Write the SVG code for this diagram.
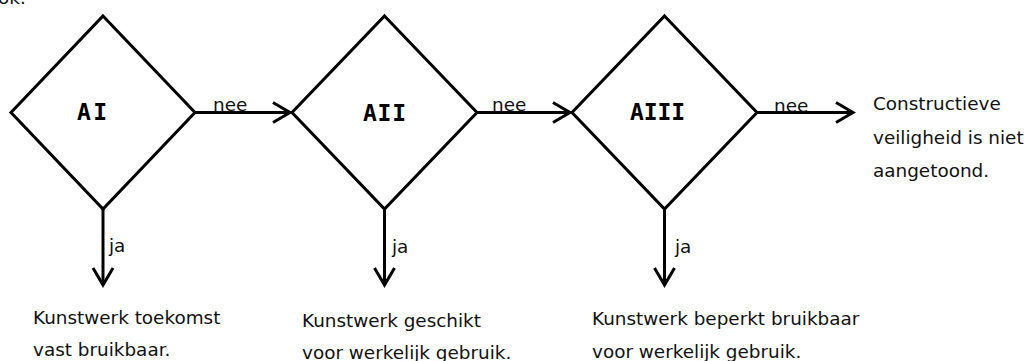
<svg xmlns="http://www.w3.org/2000/svg" width="1030" height="361" viewBox="0 0 1030 361">
  <style>
    .shape { fill: #ffffff; stroke: #000000; stroke-width: 3; stroke-linejoin: miter; }
    .link { fill: none; stroke: #000000; stroke-width: 3; }
    .txt { font-family: "DejaVu Sans", Verdana, sans-serif; font-size: 18.4px; fill: #111111; }
    .code { font-family: "DejaVu Sans Mono", "Liberation Mono", monospace; font-size: 23px; font-weight: bold; fill: #000000; }
  </style>
  <defs>
    <marker id="chevron" markerUnits="userSpaceOnUse" markerWidth="24" markerHeight="26" refX="0" refY="0" viewBox="-20 -13 24 26" orient="auto">
      <path d="M -17 -10 L 0 0 L -17 10" fill="none" stroke="#000000" stroke-width="3" stroke-linejoin="miter"/>
    </marker>
  </defs>

  <!-- trailing line of a preceding paragraph -->
  <text class="txt" x="-2" y="4">ok.</text>

  <!-- decision nodes -->
  <g id="node-AI">
    <polygon class="shape" points="103,16 195,112.5 103,209 11,112.5"/>
    <text class="code" x="77" y="120" textLength="30" lengthAdjust="spacing">AI</text>
  </g>
  <g id="node-AII">
    <polygon class="shape" points="384.5,16 477,112.5 384.5,209 292,112.5"/>
    <text class="code" x="363" y="120.5" textLength="43" lengthAdjust="spacing">AII</text>
  </g>
  <g id="node-AIII">
    <polygon class="shape" points="664.5,16 757,112.5 664.5,209 572,112.5"/>
    <text class="code" x="630" y="120" textLength="55" lengthAdjust="spacing">AIII</text>
  </g>

  <!-- outcome texts -->
  <g id="result-AI">
    <text class="txt" x="33" y="324">Kunstwerk toekomst</text>
    <text class="txt" x="33" y="356">vast bruikbaar.</text>
  </g>
  <g id="result-AII">
    <text class="txt" x="302" y="327">Kunstwerk geschikt</text>
    <text class="txt" x="302" y="359">voor werkelijk gebruik.</text>
  </g>
  <g id="result-AIII">
    <text class="txt" x="592" y="325">Kunstwerk beperkt bruikbaar</text>
    <text class="txt" x="592" y="358">voor werkelijk gebruik.</text>
  </g>
  <g id="result-none">
    <text class="txt" x="873" y="110">Constructieve</text>
    <text class="txt" x="873" y="143.5">veiligheid is niet</text>
    <text class="txt" x="873" y="177">aangetoond.</text>
  </g>

  <!-- connectors -->
  <g id="connectors">
    <line class="link" x1="195" y1="112.5" x2="290" y2="112.5" marker-end="url(#chevron)"/>
    <line class="link" x1="477" y1="112.5" x2="570" y2="112.5" marker-end="url(#chevron)"/>
    <line class="link" x1="757" y1="112.5" x2="853" y2="112.5" marker-end="url(#chevron)"/>
    <line class="link" x1="103" y1="209" x2="103" y2="285" marker-end="url(#chevron)"/>
    <line class="link" x1="384.5" y1="209" x2="384.5" y2="285" marker-end="url(#chevron)"/>
    <line class="link" x1="664.5" y1="209" x2="664.5" y2="285" marker-end="url(#chevron)"/>
    <text class="txt" x="213" y="111">nee</text>
    <text class="txt" x="492" y="111">nee</text>
    <text class="txt" x="774" y="111.5">nee</text>
    <text class="txt" x="109" y="252">ja</text>
    <text class="txt" x="392" y="253">ja</text>
    <text class="txt" x="675" y="253">ja</text>
  </g>
</svg>
